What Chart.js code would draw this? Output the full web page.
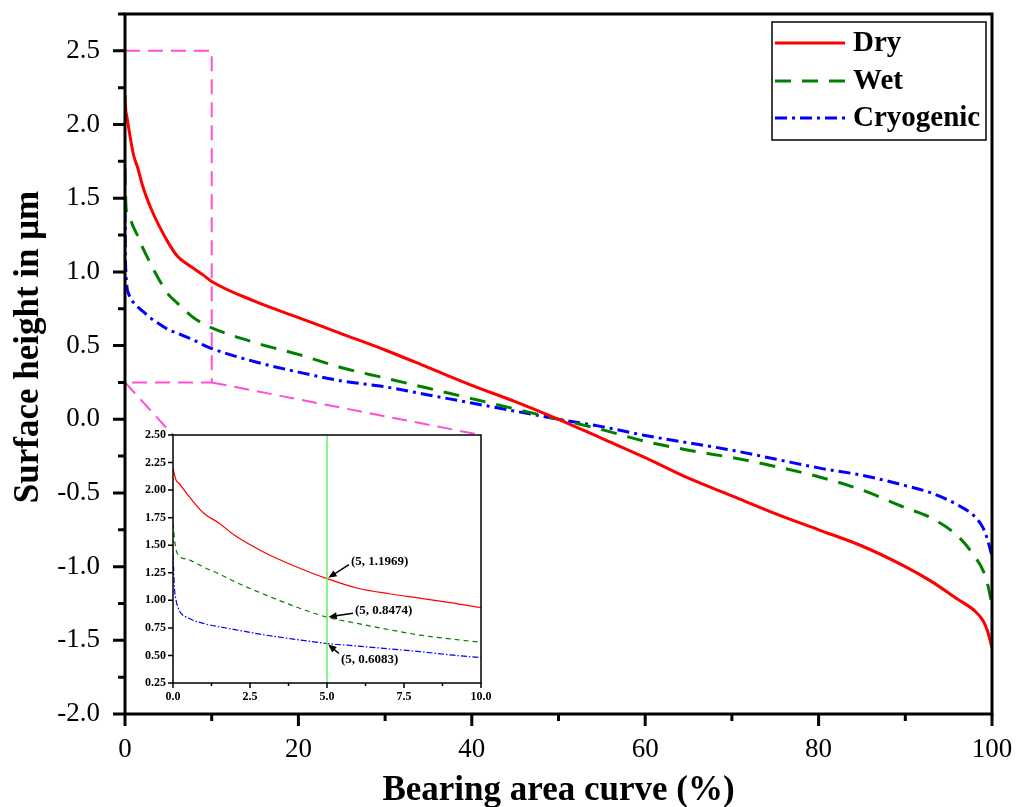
<!DOCTYPE html>
<html>
<head>
<meta charset="utf-8">
<script src="https://cdn.jsdelivr.net/npm/chart.js@4.4.1/dist/chart.umd.min.js"></script>
<style>
  body { margin: 0; background: #fff; }
  #wrap { position: relative; width: 1021px; height: 807px; }
  #mainChart { position: absolute; left: 0; top: 0; }
  #insetChart { position: absolute; left: 110px; top: 425px; }
</style>
</head>
<body>
<div id="wrap">
  <canvas id="mainChart" width="1021" height="807"></canvas>
  <canvas id="insetChart" width="385" height="285"></canvas>
</div>
<script>
// bearing area (%)
var xs = [0, 0.05, 0.1, 0.2, 0.5, 1, 1.5, 2, 3, 4, 5, 6, 7, 8, 9, 10, 15, 20, 25, 30, 35, 40, 45, 50,
          55, 60, 65, 70, 75, 80, 85, 90, 93, 96, 98, 99, 99.5, 100];
// surface height (um)
var dry = [2.2, 2.14, 2.09, 2.06, 1.95, 1.79, 1.70, 1.59, 1.43, 1.305, 1.1969, 1.11, 1.06, 1.02, 0.98, 0.935,
           0.8, 0.69, 0.58, 0.47, 0.35, 0.23, 0.12, 0.0, -0.13, -0.26, -0.4, -0.52, -0.64, -0.75, -0.86,
           -1.0, -1.1, -1.22, -1.3, -1.37, -1.44, -1.55];
var wet = [1.7, 1.55, 1.46, 1.4, 1.37, 1.3, 1.24, 1.17, 1.05, 0.94, 0.8474, 0.79, 0.735, 0.685, 0.65, 0.62,
           0.52, 0.44, 0.35, 0.28, 0.21, 0.14, 0.07, 0.0, -0.07, -0.15, -0.21, -0.26, -0.32, -0.39, -0.48,
           -0.6, -0.67, -0.79, -0.93, -1.03, -1.12, -1.26];
var cryo = [1.42, 1.1, 1.0, 0.91, 0.84, 0.79, 0.76, 0.735, 0.685, 0.645, 0.6083, 0.585, 0.56, 0.535, 0.505, 0.48,
            0.39, 0.32, 0.26, 0.22, 0.165, 0.11, 0.055, 0.0, -0.05, -0.11, -0.16, -0.21, -0.27, -0.33, -0.38,
            -0.45, -0.5, -0.58, -0.66, -0.74, -0.82, -0.93];
var seriesNames = ['Dry', 'Wet', 'Cryogenic'];
var xTitle = 'Bearing area curve (%)';
var yTitle = 'Surface height in μm';

// zoom window shown in the inset
var zoomX = [0, 10];
var zoomY = [0.25, 2.5];
var markX = 5;

var serif = "'Liberation Serif', 'Times New Roman', serif";

function pts(ys) {
  return xs.map(function (x, i) { return { x: x, y: ys[i] }; });
}

var styles = [
  { color: '#ff0000', dash: [], insetDash: [] },
  { color: '#008000', dash: [16, 11], insetDash: [5, 4] },
  { color: '#0000ff', dash: [12, 5, 3, 5], insetDash: [6, 2, 1.5, 2] }
];
var allSeries = [dry, wet, cryo];

function makeSets(thin) {
  return allSeries.map(function (ys, i) {
    return {
      label: seriesNames[i],
      data: pts(ys),
      borderColor: styles[i].color,
      borderWidth: thin ? 1.2 : 3,
      borderDash: thin ? styles[i].insetDash : styles[i].dash,
      pointRadius: 0,
      fill: false,
      cubicInterpolationMode: 'monotone'
    };
  });
}

function noPadX(s, h) { s.height = h; s.paddingLeft = 0; s.paddingRight = 0; }
function noPadY(s, w) { s.width = w; s.paddingTop = 0; s.paddingBottom = 0; }

function drawTicks(ctx, chart, xStep, xMinorStep, yStep, yMinorStep, majLen, minLen, lw) {
  var a = chart.chartArea, sx = chart.scales.x, sy = chart.scales.y;
  ctx.lineWidth = lw;
  ctx.strokeStyle = '#000';
  ctx.beginPath();
  for (var v = sx.min; v <= sx.max + 1e-9; v += xMinorStep) {
    var px = sx.getPixelForValue(v);
    var major = Math.abs(v / xStep - Math.round(v / xStep)) < 1e-6;
    ctx.moveTo(px, a.bottom);
    ctx.lineTo(px, a.bottom + (major ? majLen : minLen));
  }
  for (var w = sy.min; w <= sy.max + 1e-9; w += yMinorStep) {
    var py = sy.getPixelForValue(w);
    var maj = Math.abs(w / yStep - Math.round(w / yStep)) < 1e-6;
    ctx.moveTo(a.left, py);
    ctx.lineTo(a.left - (maj ? majLen : minLen), py);
  }
  ctx.stroke();
  ctx.strokeRect(a.left, a.top, a.right - a.left, a.bottom - a.top);
}

// ---------- inset ----------
var insetPlugin = {
  id: 'insetDeco',
  afterDatasetsDraw: function (chart) {
    var ctx = chart.ctx, a = chart.chartArea, sx = chart.scales.x, sy = chart.scales.y;
    ctx.save();
    // marker line
    var px = sx.getPixelForValue(markX);
    ctx.strokeStyle = '#66ee66';
    ctx.lineWidth = 1.5;
    ctx.beginPath();
    ctx.moveTo(px, a.top);
    ctx.lineTo(px, a.bottom);
    ctx.stroke();
    // annotations
    var offs = [[24, -17], [28, -7], [14, 16]];
    var idx = xs.indexOf(markX);
    ctx.font = 'bold 13px ' + serif;
    ctx.fillStyle = '#000';
    ctx.strokeStyle = '#000';
    ctx.textBaseline = 'middle';
    allSeries.forEach(function (ys, i) {
      var v = ys[idx];
      var p = { x: px, y: sy.getPixelForValue(v) };
      var tx = p.x + offs[i][0], ty = p.y + offs[i][1];
      ctx.fillText('(' + markX + ', ' + v.toFixed(4) + ')', tx, ty);
      var sxp = tx - 2, syp = ty + (offs[i][1] < 0 ? 3 : -6);
      var ang = Math.atan2(p.y - syp, p.x - sxp);
      var hx = p.x - Math.cos(ang) * 1.5, hy = p.y - Math.sin(ang) * 1.5;
      ctx.lineWidth = 1.5;
      ctx.beginPath();
      ctx.moveTo(sxp, syp);
      ctx.lineTo(hx - Math.cos(ang) * 6, hy - Math.sin(ang) * 6);
      ctx.stroke();
      ctx.beginPath();
      ctx.moveTo(hx, hy);
      ctx.lineTo(hx - Math.cos(ang - 0.4) * 9, hy - Math.sin(ang - 0.4) * 9);
      ctx.lineTo(hx - Math.cos(ang + 0.4) * 9, hy - Math.sin(ang + 0.4) * 9);
      ctx.closePath();
      ctx.fill();
    });
    ctx.restore();
  },
  afterDraw: function (chart) {
    var ctx = chart.ctx;
    ctx.save();
    drawTicks(ctx, chart, 2.5, 1.25, 0.25, 0.25, 5, 3, 1.5);
    ctx.restore();
  }
};

var insetChart = new Chart(document.getElementById('insetChart'), {
  type: 'line',
  data: { datasets: makeSets(true) },
  plugins: [insetPlugin],
  options: {
    responsive: false,
    animation: false,
    devicePixelRatio: 1,
    layout: { padding: { left: 0, top: 10, right: 14, bottom: 0 } },
    plugins: { legend: { display: false }, tooltip: { enabled: false } },
    scales: {
      x: {
        type: 'linear', min: zoomX[0], max: zoomX[1],
        grid: { display: false, drawTicks: false }, border: { display: false },
        afterFit: function (s) { noPadX(s, 27); },
        ticks: {
          stepSize: 2.5, padding: 7, color: '#000', maxRotation: 0,
          font: { family: serif, size: 12, weight: 'bold' },
          callback: function (v) { return v.toFixed(1); }
        }
      },
      y: {
        type: 'linear', min: zoomY[0], max: zoomY[1],
        grid: { display: false, drawTicks: false }, border: { display: false },
        afterFit: function (s) { noPadY(s, 63); },
        ticks: {
          stepSize: 0.25, padding: 7, color: '#000',
          font: { family: serif, size: 12, weight: 'bold' },
          callback: function (v) { return v.toFixed(2); }
        }
      }
    }
  }
});

// ---------- main ----------
var mainPlugin = {
  id: 'mainDeco',
  afterDatasetsDraw: function (chart) {
    var ctx = chart.ctx, sx = chart.scales.x, sy = chart.scales.y;
    var x0 = sx.getPixelForValue(zoomX[0]), x1 = sx.getPixelForValue(zoomX[1]);
    var y0 = sy.getPixelForValue(zoomY[1]), y1 = sy.getPixelForValue(zoomY[0]);
    var ia = insetChart.chartArea, cv = insetChart.canvas;
    var il = cv.offsetLeft + ia.left, ir = cv.offsetLeft + ia.right, it = cv.offsetTop + ia.top;
    ctx.save();
    ctx.strokeStyle = '#ff4fd6';
    ctx.lineWidth = 2;
    ctx.setLineDash([15, 8]);
    ctx.strokeRect(x0, y0, x1 - x0, y1 - y0);
    ctx.beginPath();
    ctx.moveTo(x0, y1); ctx.lineTo(il, it);
    ctx.moveTo(x1, y1); ctx.lineTo(ir, it);
    ctx.stroke();
    ctx.restore();
  },
  afterDraw: function (chart) {
    var ctx = chart.ctx, a = chart.chartArea;
    ctx.save();
    drawTicks(ctx, chart, 20, 10, 0.5, 0.25, 12, 7, 3);
    // y title
    ctx.save();
    ctx.translate(29, (a.top + a.bottom) / 2 - 17);
    ctx.rotate(-Math.PI / 2);
    ctx.font = 'bold 35px ' + serif;
    ctx.fillStyle = '#000';
    ctx.textAlign = 'center';
    ctx.textBaseline = 'middle';
    ctx.fillText(yTitle, 0, 0);
    ctx.restore();
    // legend box
    var bx = a.right - 220, by = a.top + 8, bw = 214, bh = 118;
    ctx.lineWidth = 1.5;
    ctx.strokeStyle = '#000';
    ctx.strokeRect(bx, by, bw, bh);
    var rows = [21, 59, 96];
    ctx.font = 'bold 29px ' + serif;
    ctx.textBaseline = 'middle';
    ctx.fillStyle = '#000';
    chart.data.datasets.forEach(function (ds, i) {
      var ry = by + rows[i];
      ctx.strokeStyle = ds.borderColor;
      ctx.lineWidth = 3;
      ctx.setLineDash(ds.borderDash);
      ctx.beginPath();
      ctx.moveTo(bx + 3, ry);
      ctx.lineTo(bx + 73, ry);
      ctx.stroke();
      ctx.setLineDash([]);
      ctx.fillText(ds.label, bx + 81, ry + 1);
    });
    ctx.restore();
  }
};

new Chart(document.getElementById('mainChart'), {
  type: 'line',
  data: { datasets: makeSets(false) },
  plugins: [mainPlugin],
  options: {
    responsive: false,
    animation: false,
    devicePixelRatio: 1,
    layout: { padding: { left: 0, top: 14, right: 29, bottom: 0 } },
    plugins: { legend: { display: false }, tooltip: { enabled: false } },
    scales: {
      x: {
        type: 'linear', min: 0, max: 100,
        grid: { display: false, drawTicks: false }, border: { display: false },
        afterFit: function (s) { noPadX(s, 93); },
        title: {
          display: true, text: xTitle, color: '#000',
          font: { family: serif, size: 35, weight: 'bold', lineHeight: 0.9 },
          padding: { top: 0, bottom: 0 }
        },
        ticks: {
          stepSize: 20, padding: 20, color: '#000', maxRotation: 0,
          font: { family: serif, size: 27 }
        }
      },
      y: {
        type: 'linear', min: -2.0, max: 2.75,
        grid: { display: false, drawTicks: false }, border: { display: false },
        afterFit: function (s) { noPadY(s, 125); },
        ticks: {
          stepSize: 0.5, padding: 25, color: '#000',
          font: { family: serif, size: 27 },
          callback: function (v) {
            return Math.abs(v * 2 - Math.round(v * 2)) < 1e-6 ? v.toFixed(1) : '';
          }
        }
      }
    }
  }
});
</script>
</body>
</html>
